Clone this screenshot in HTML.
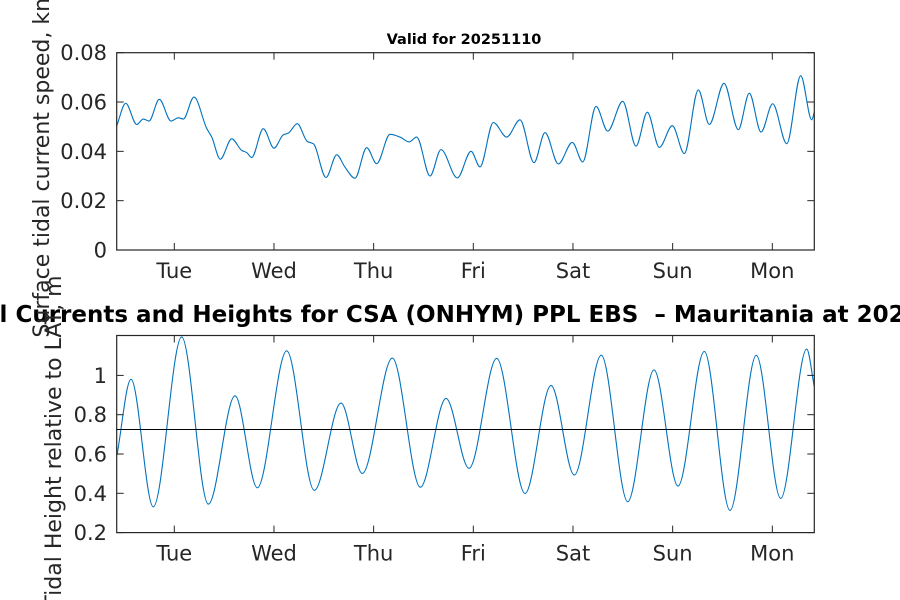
<!DOCTYPE html>
<html><head><meta charset="utf-8"><style>
body{margin:0;background:#fff;}
svg{display:block;font-family:"DejaVu Sans","Liberation Sans",sans-serif;}
</style></head><body>
<svg id="chart" width="900" height="600" viewBox="0 0 900 600">
<rect width="900" height="600" fill="#fff"/>
</svg>
<script>
// Hours since Tue 00:00 and values
const speedTimes = [-13.87,-11.70,-9.05,-7.46,-6.09,-3.61,-0.79,0.96,2.17,4.74,7.80,9.01,11.08,13.82,16.23,17.43,18.64,21.43,24.01,26.25,27.45,29.62,32.03,33.47,36.53,39.11,41.10,43.51,46.33,48.74,51.94,54.35,56.52,58.37,61.58,64.22,68.15,71.45,73.61,76.82,80.04,83.25,86.62,89.27,92.47,95.84,98.34,101.55,104.37,107.98,111.18,113.90,116.79,119.92,122.81,126.18,128.83,132.37,135.81,138.46,141.28,144.09,147.47,150.84,153.49,154.11];
const speedValues = [0.0503,0.0595,0.0509,0.0531,0.0523,0.0611,0.0523,0.0536,0.0531,0.0620,0.0493,0.0458,0.0368,0.0451,0.0404,0.0395,0.0375,0.0492,0.0413,0.0467,0.0474,0.0512,0.0440,0.0431,0.0294,0.0386,0.0336,0.0291,0.0415,0.0350,0.0469,0.0458,0.0438,0.0458,0.0300,0.0407,0.0292,0.0400,0.0337,0.0517,0.0458,0.0528,0.0354,0.0476,0.0349,0.0436,0.0357,0.0582,0.0482,0.0603,0.0421,0.0559,0.0416,0.0504,0.0391,0.0649,0.0509,0.0676,0.0488,0.0636,0.0478,0.0593,0.0431,0.0707,0.0528,0.0559];
const heightTimes = [-13.8,-10.43,-5.06,1.78,8.19,14.62,19.99,27.07,33.71,40.14,45.27,52.50,59.24,65.43,70.97,77.63,84.45,90.71,96.32,102.82,109.18,115.51,121.29,127.62,133.81,140.14,146.02,152.28,154.11];
const heightValues = [0.594,0.98,0.331,1.196,0.345,0.896,0.428,1.125,0.415,0.859,0.501,1.088,0.431,0.883,0.527,1.087,0.399,0.949,0.493,1.103,0.357,1.028,0.437,1.122,0.313,1.102,0.374,1.134,0.942];
const meanLevel = [0.725];
const dayLabels = ["Tue","Wed","Thu","Fri","Sat","Sun","Mon"];
const dayHours = [0,24,48,72,96,120,144];
const speedTicks = [0,0.02,0.04,0.06,0.08];
const speedTickLabels = ["0","0.02","0.04","0.06","0.08"];
const heightTicks = [0.2,0.4,0.6,0.8,1.0];
const heightTickLabels = ["0.2","0.4","0.6","0.8","1"];

const NS="http://www.w3.org/2000/svg";
const svg=document.getElementById('chart');
function mk(tag,attrs,parent){const e=document.createElementNS(NS,tag);for(const k in attrs)e.setAttribute(k,attrs[k]);(parent||svg).appendChild(e);return e;}
const X0=116.7,X1=814.3;
const xScale=h=>174.3+h*99.67/24;

function monoPath(xs,ys){
  const n=xs.length,d=[],m=new Array(n);
  for(let i=0;i<n-1;i++)d.push((ys[i+1]-ys[i])/(xs[i+1]-xs[i]));
  m[0]=d[0];m[n-1]=d[n-2];
  for(let i=1;i<n-1;i++){ if(d[i-1]*d[i]<=0)m[i]=0; else {const w1=2*(xs[i+1]-xs[i])+(xs[i]-xs[i-1]),w2=(xs[i+1]-xs[i])+2*(xs[i]-xs[i-1]);m[i]=(w1+w2)/(w1/d[i-1]+w2/d[i]);} }
  let p=`M${xs[0].toFixed(2)},${ys[0].toFixed(2)}`;
  for(let i=0;i<n-1;i++){const h=xs[i+1]-xs[i];
    p+=` C${(xs[i]+h/3).toFixed(2)},${(ys[i]+m[i]*h/3).toFixed(2)} ${(xs[i+1]-h/3).toFixed(2)},${(ys[i+1]-m[i+1]*h/3).toFixed(2)} ${xs[i+1].toFixed(2)},${ys[i+1].toFixed(2)}`;}
  return p;
}

function panel(name,top,bottom,yScale,ticks,tickLabels,times,values){
  const g=mk('g',{});
  
  
  const cid=name+'-clip';
  const cp=mk('clipPath',{id:cid},g);mk('rect',{x:X0,y:top,width:X1-X0,height:bottom-top},cp);
  const line=mk('path',{d:monoPath(times.map(xScale),values.map(yScale)),fill:'none',stroke:'#0072BD','stroke-width':1.1,'clip-path':`url(#${cid})`},g);
  
  
  const frame=mk('rect',{x:X0,y:top,width:X1-X0,height:bottom-top,fill:'none',stroke:'#262626','stroke-width':1.2},g);
  
  
  dayHours.forEach((h,i)=>{const x=xScale(h);
    mk('line',{x1:x,x2:x,y1:bottom,y2:bottom-7,stroke:'#262626','stroke-width':1},g);
    mk('line',{x1:x,x2:x,y1:top,y2:top+7,stroke:'#262626','stroke-width':1},g);
    const t=mk('text',{x:x,y:bottom+28,'text-anchor':'middle','font-size':21,fill:'#262626'},g);t.textContent=dayLabels[i];
    
    
  });
  ticks.forEach((v,i)=>{const y=yScale(v);
    mk('line',{x1:X0,x2:X0+7,y1:y,y2:y,stroke:'#262626','stroke-width':1},g);
    mk('line',{x1:X1,x2:X1-7,y1:y,y2:y,stroke:'#262626','stroke-width':1},g);
    const t=mk('text',{x:107,y:y+7.5,'text-anchor':'end','font-size':21,fill:'#262626'},g);t.textContent=tickLabels[i];
    
    
  });
  return g;
}
const ySpeed=v=>250-v*(250-52.7)/0.08;
const yHeight=v=>532.6-(v-0.2)*196.5;
panel('speed',52.7,250,ySpeed,speedTicks,speedTickLabels,speedTimes,speedValues);
const hg=panel('height',335.5,532.6,yHeight,heightTicks,heightTickLabels,heightTimes,heightValues);
const ml=mk('line',{x1:X0,x2:X1,y1:yHeight(meanLevel[0]),y2:yHeight(meanLevel[0]),stroke:'#000','stroke-width':1},hg);


</script>
<svg width="900" height="600" style="position:absolute;left:0;top:0">
<text x="464" y="44" text-anchor="middle" font-size="14.5" font-weight="bold" font-family="DejaVu Sans,sans-serif">Valid for 20251110</text>
<text x="-56" y="322" font-size="23" font-weight="bold" font-family="DejaVu Sans,sans-serif" xml:space="preserve">Tidal Currents and Heights for CSA (ONHYM) PPL EBS  – Mauritania at 20251110</text>
<text transform="translate(49,151) rotate(-90)" text-anchor="middle" font-size="22" fill="#262626" font-family="DejaVu Sans,sans-serif">Surface tidal current speed, knots</text>
<text transform="translate(61,442) rotate(-90)" text-anchor="middle" font-size="22" fill="#262626" font-family="DejaVu Sans,sans-serif">Tidal Height relative to LAT, m</text>
</svg>
</body></html>
